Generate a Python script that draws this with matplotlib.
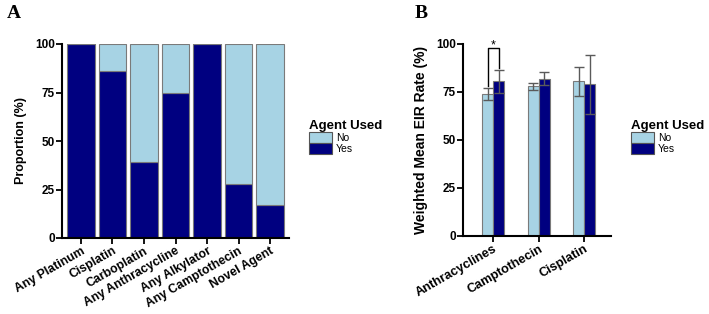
import numpy as np
import matplotlib
matplotlib.use('Agg')
import matplotlib.pyplot as plt
from matplotlib.patches import Patch

plt.rcParams['font.family'] = ['Liberation Sans', 'DejaVu Sans']
plt.rcParams['font.weight'] = 'bold'

# Panel A data
agents_a = ['Any Platinum', 'Cisplatin', 'Carboplatin', 'Any Anthracycline',
            'Any Alkylator', 'Any Camptothecin', 'Novel Agent']
yes_a = [100, 86, 39, 75, 100, 28, 17]
no_a = [100 - v for v in yes_a]

# Panel B data
agents_b = ['Anthracyclines', 'Camptothecin', 'Cisplatin']
no_b = [74, 78, 80.5]
no_b_err = [3, 1.7, 7.6]
yes_b = [80.5, 82, 79]
yes_b_err = [6, 3.6, 15.5]

light = '#a7d3e4'
dark = '#000080'
edge = '#7a7a7a'

fig = plt.figure(figsize=(7.09, 3.14), dpi=100)

def style(ax, ylabel, ylsize):
    for s in ['top', 'right']:
        ax.spines[s].set_visible(False)
    for s in ['left', 'bottom']:
        ax.spines[s].set_linewidth(1.5)
    ax.set_ylim(0, 100)
    ax.set_yticks([0, 25, 50, 75, 100])
    ax.tick_params(axis='both', direction='out', length=4, width=1.3, labelsize=8.5, pad=1)
    ax.set_ylabel(ylabel, fontsize=ylsize, fontweight='bold', labelpad=6)
    for lab in ax.get_yticklabels():
        lab.set_fontweight('bold')

def legend(ax, x, y):
    handles = [Patch(facecolor=light, edgecolor='#555555', lw=0.8, label='No'),
               Patch(facecolor=dark, edgecolor='#555555', lw=0.8, label='Yes')]
    lg = ax.legend(handles=handles, title='Agent Used', loc='upper left',
                   bbox_to_anchor=(x, y), bbox_transform=fig.transFigure,
                   frameon=False, title_fontsize=9.5,
                   handlelength=2.2, handleheight=1.2, labelspacing=0,
                   handletextpad=0.4, borderpad=0, borderaxespad=0,
                   alignment='left', prop={'weight': 'normal', 'size': 7.5})
    lg.get_title().set_fontweight('bold')

# ---- Panel A ----
axa = fig.add_axes([62/709, 1 - 238/314, 227/709, 194/314])
xa = np.arange(len(agents_a))
axa.bar(xa, yes_a, width=0.88, color=dark, edgecolor=edge, lw=0.8)
axa.bar(xa, no_a, bottom=yes_a, width=0.88, color=light, edgecolor=edge, lw=0.8)
axa.set_xlim(-0.6, len(agents_a) - 0.4)
style(axa, 'Proportion (%)', 9)
axa.set_xticks(xa)
axa.set_xticklabels(agents_a, rotation=30, ha='right', rotation_mode='anchor',
                    fontsize=8.8, fontweight='bold')
legend(axa, 309/709, 1 - 120/314)
fig.text(7/709, 1 - 14/314, 'A', family='Liberation Serif', fontsize=14,
         fontweight='bold', va='center', ha='left')

# ---- Panel B ----
axb = fig.add_axes([463/709, 1 - 236/314, 148/709, 192/314])
xb = np.arange(len(agents_b))
w = 0.24
axb.bar(xb - w/2, no_b, width=w, color=light, edgecolor=edge, lw=0.8)
axb.bar(xb + w/2, yes_b, width=w, color=dark, edgecolor=edge, lw=0.8)
axb.errorbar(xb - w/2, no_b, yerr=no_b_err, fmt='none', ecolor='#5a5a5a',
             elinewidth=1, capsize=3.5, capthick=1)
axb.errorbar(xb + w/2, yes_b, yerr=yes_b_err, fmt='none', ecolor='#5a5a5a',
             elinewidth=1, capsize=3.5, capthick=1)
# significance bracket on first group
top_no = no_b[0] + no_b_err[0]
top_yes = yes_b[0] + yes_b_err[0]
br = 98
axb.plot([xb[0] - w/2, xb[0] - w/2, xb[0] + w/2, xb[0] + w/2],
         [top_no + 1, br, br, top_yes + 1], color='black', lw=1, clip_on=False)
axb.text(xb[0], br - 0.3, '*', ha='center', va='baseline', fontsize=9,
         fontweight='normal')
axb.set_xlim(-0.66, len(agents_b) - 0.41)
style(axb, 'Weighted Mean EIR Rate (%)', 10)
axb.set_xticks(xb)
axb.set_xticklabels(agents_b, rotation=30, ha='right', rotation_mode='anchor',
                    fontsize=9.2, fontweight='bold')
legend(axb, 631/709, 1 - 120/314)
fig.text(415/709, 1 - 13/314, 'B', family='Liberation Serif', fontsize=14,
         fontweight='bold', va='center', ha='left')

fig.savefig('out.png', dpi=100)
